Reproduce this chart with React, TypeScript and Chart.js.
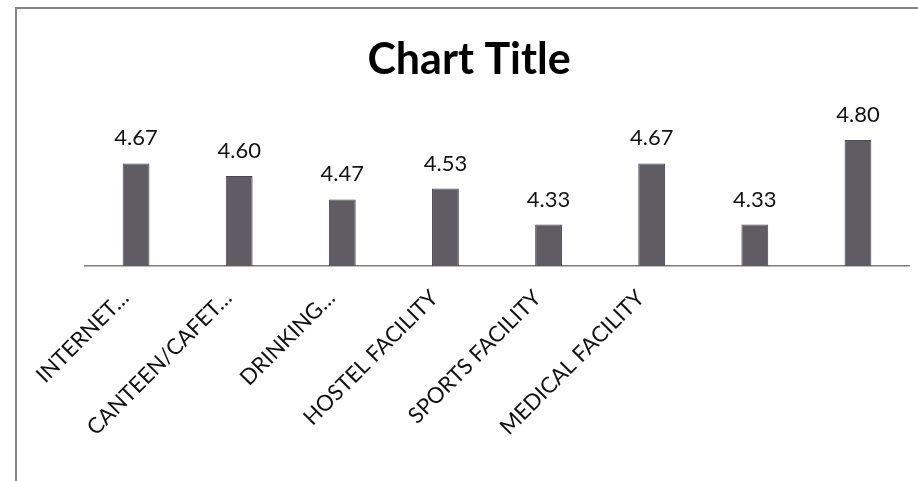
import { useEffect, useRef } from "react";
import { Chart, registerables, Plugin } from "chart.js";

Chart.register(...registerables);

const categories = [
  "INTERNET…",
  "CANTEEN/CAFET…",
  "DRINKING…",
  "HOSTEL FACILITY",
  "SPORTS FACILITY",
  "MEDICAL FACILITY",
  "",
  "",
];
const scores = [4.67, 4.6, 4.47, 4.53, 4.33, 4.67, 4.33, 4.8];
const yMin = 4.1;
const yMax = 5.0;

// draws the value above each bar, like Excel's data labels
const barLabels: Plugin<"bar"> = {
  id: "barLabels",
  afterDatasetsDraw(chart) {
    const { ctx } = chart;
    const meta = chart.getDatasetMeta(0);
    ctx.save();
    ctx.font = "22px Lato";
    ctx.fillStyle = "#111";
    ctx.textAlign = "center";
    ctx.textBaseline = "alphabetic";
    meta.data.forEach((bar, i) => {
      ctx.fillText(scores[i].toFixed(2), bar.x, bar.y - 18);
    });
    ctx.restore();
  },
};

export default function App() {
  const canvasRef = useRef<HTMLCanvasElement>(null);

  useEffect(() => {
    if (!canvasRef.current) return;
    const chart = new Chart(canvasRef.current, {
      type: "bar",
      data: {
        labels: categories,
        datasets: [
          {
            data: scores,
            backgroundColor: "#5f5c64",
            borderColor: "#4a4850",
            borderWidth: 1,
            barPercentage: 0.26,
            categoryPercentage: 1,
          },
        ],
      },
      options: {
        responsive: true,
        maintainAspectRatio: false,
        animation: false,
        layout: { padding: { left: 28.5, right: 8.5, top: 0, bottom: 0 } },
        plugins: {
          legend: { display: false },
          tooltip: { enabled: false },
          title: {
            display: true,
            text: "Chart Title",
            color: "#000",
            font: { family: "Lato", size: 43, weight: "bold", lineHeight: 1.2 },
            padding: { top: 34, bottom: 18.4 },
          },
        },
        scales: {
          x: {
            grid: { display: false },
            border: { display: true, color: "#7d7d7d", width: 1.5 },
            ticks: {
              autoSkip: false,
              minRotation: 45,
              maxRotation: 45,
              padding: 11,
              labelOffset: -11,
              color: "#111",
              font: { family: "Lato", size: 22 },
            },
            afterFit(scale) {
              scale.height = 215;
            },
          },
          y: {
            min: yMin,
            max: yMax,
            grid: { display: false },
            border: { display: false },
            ticks: { display: false },
            afterFit(scale) {
              scale.width = 56;
            },
          },
        },
      },
      plugins: [barLabels],
    });
    return () => chart.destroy();
  }, []);

  return (
    <div
      style={{
        position: "fixed",
        left: 0,
        top: 0,
        width: 918,
        height: 481,
        overflow: "hidden",
        background: "#fff",
      }}
    >
      <div
        style={{
          position: "absolute",
          left: 15,
          top: 7,
          width: 1000,
          height: 1000,
          border: "2px solid #858585",
        }}
      />
      <div style={{ position: "absolute", left: 0, top: 0, width: 918, height: 481 }}>
        <canvas ref={canvasRef} />
      </div>
    </div>
  );
}
